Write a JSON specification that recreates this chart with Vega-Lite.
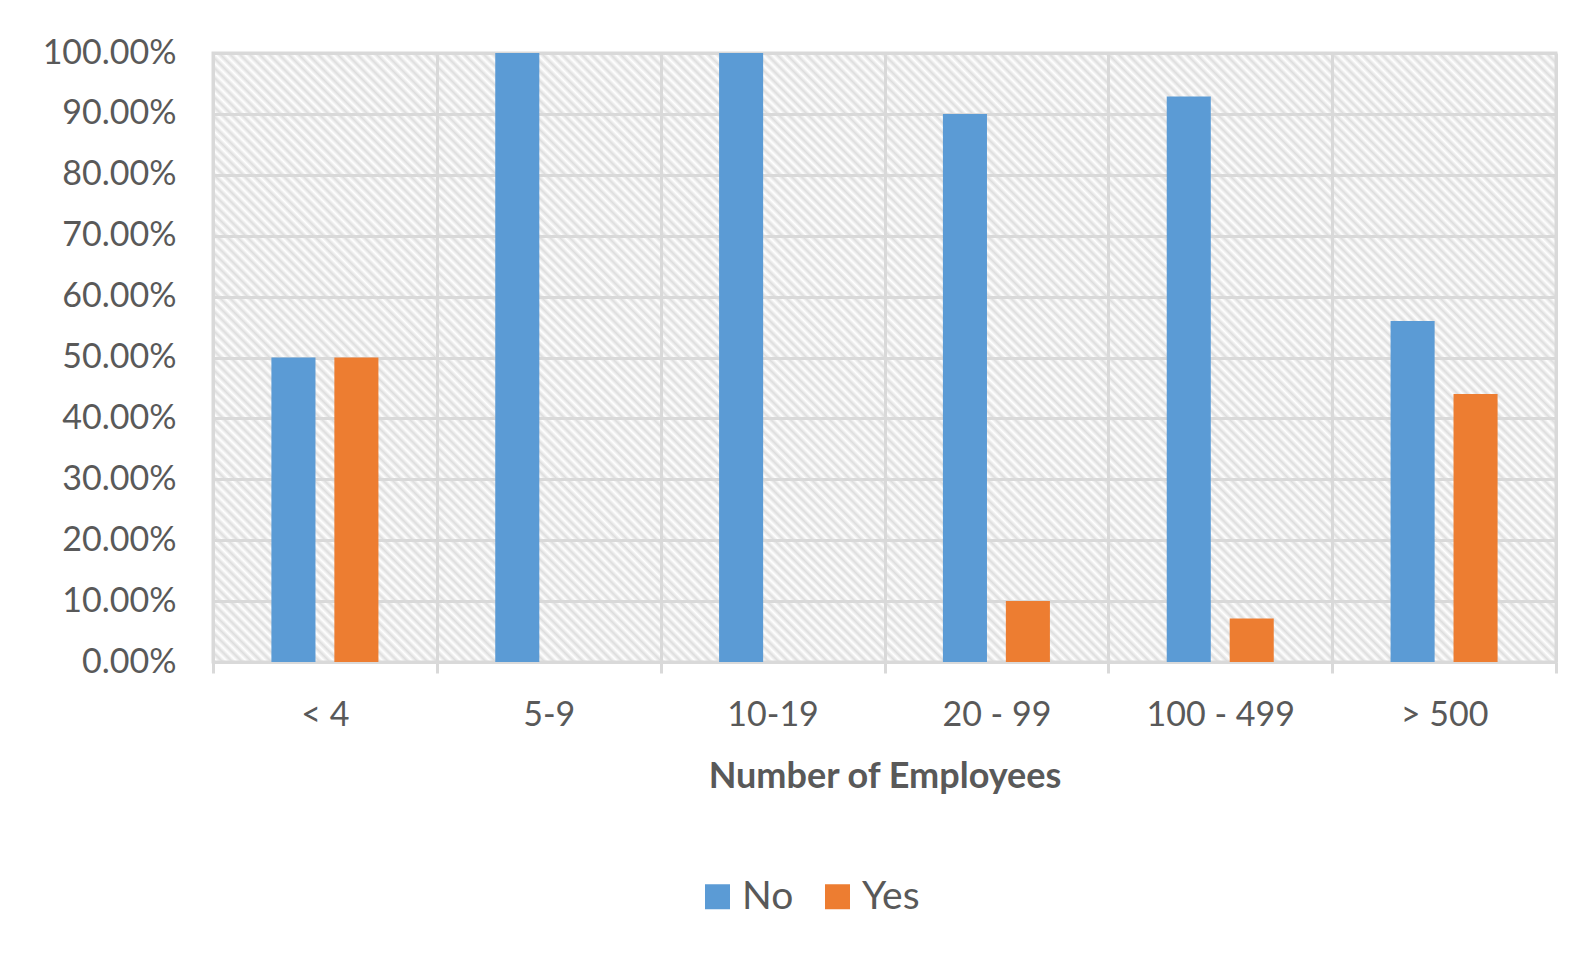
{
  "$schema": "https://vega.github.io/schema/vega-lite/v6.json",
  "width": 1343,
  "height": 609,
  "autosize": "none",
  "padding": {"left": 213, "top": 53, "right": 24, "bottom": 294},
  "background": "white",
  "config": {"font": "Lato"},
  "view": {
    "stroke": "#d9d9d9",
    "strokeWidth": 3,
    "fill": {
      "gradient": "linear",
      "x1": 0, "y1": 1, "x2": 1.2056, "y2": 0.4533,
      "stops": [
{"offset":0,"color":"#ddd"},{"offset":0.0025,"color":"#fff"},{"offset":0.005,"color":"#ddd"},{"offset":0.0075,"color":"#fff"},
{"offset":0.01,"color":"#ddd"},{"offset":0.0125,"color":"#fff"},{"offset":0.015,"color":"#ddd"},{"offset":0.0175,"color":"#fff"},
{"offset":0.02,"color":"#ddd"},{"offset":0.0225,"color":"#fff"},{"offset":0.025,"color":"#ddd"},{"offset":0.0275,"color":"#fff"},
{"offset":0.03,"color":"#ddd"},{"offset":0.0325,"color":"#fff"},{"offset":0.035,"color":"#ddd"},{"offset":0.0375,"color":"#fff"},
{"offset":0.04,"color":"#ddd"},{"offset":0.0425,"color":"#fff"},{"offset":0.045,"color":"#ddd"},{"offset":0.0475,"color":"#fff"},
{"offset":0.05,"color":"#ddd"},{"offset":0.0525,"color":"#fff"},{"offset":0.055,"color":"#ddd"},{"offset":0.0575,"color":"#fff"},
{"offset":0.06,"color":"#ddd"},{"offset":0.0625,"color":"#fff"},{"offset":0.065,"color":"#ddd"},{"offset":0.0675,"color":"#fff"},
{"offset":0.07,"color":"#ddd"},{"offset":0.0725,"color":"#fff"},{"offset":0.075,"color":"#ddd"},{"offset":0.0775,"color":"#fff"},
{"offset":0.08,"color":"#ddd"},{"offset":0.0825,"color":"#fff"},{"offset":0.085,"color":"#ddd"},{"offset":0.0875,"color":"#fff"},
{"offset":0.09,"color":"#ddd"},{"offset":0.0925,"color":"#fff"},{"offset":0.095,"color":"#ddd"},{"offset":0.0975,"color":"#fff"},
{"offset":0.1,"color":"#ddd"},{"offset":0.1025,"color":"#fff"},{"offset":0.105,"color":"#ddd"},{"offset":0.1075,"color":"#fff"},
{"offset":0.11,"color":"#ddd"},{"offset":0.1125,"color":"#fff"},{"offset":0.115,"color":"#ddd"},{"offset":0.1175,"color":"#fff"},
{"offset":0.12,"color":"#ddd"},{"offset":0.1225,"color":"#fff"},{"offset":0.125,"color":"#ddd"},{"offset":0.1275,"color":"#fff"},
{"offset":0.13,"color":"#ddd"},{"offset":0.1325,"color":"#fff"},{"offset":0.135,"color":"#ddd"},{"offset":0.1375,"color":"#fff"},
{"offset":0.14,"color":"#ddd"},{"offset":0.1425,"color":"#fff"},{"offset":0.145,"color":"#ddd"},{"offset":0.1475,"color":"#fff"},
{"offset":0.15,"color":"#ddd"},{"offset":0.1525,"color":"#fff"},{"offset":0.155,"color":"#ddd"},{"offset":0.1575,"color":"#fff"},
{"offset":0.16,"color":"#ddd"},{"offset":0.1625,"color":"#fff"},{"offset":0.165,"color":"#ddd"},{"offset":0.1675,"color":"#fff"},
{"offset":0.17,"color":"#ddd"},{"offset":0.1725,"color":"#fff"},{"offset":0.175,"color":"#ddd"},{"offset":0.1775,"color":"#fff"},
{"offset":0.18,"color":"#ddd"},{"offset":0.1825,"color":"#fff"},{"offset":0.185,"color":"#ddd"},{"offset":0.1875,"color":"#fff"},
{"offset":0.19,"color":"#ddd"},{"offset":0.1925,"color":"#fff"},{"offset":0.195,"color":"#ddd"},{"offset":0.1975,"color":"#fff"},
{"offset":0.2,"color":"#ddd"},{"offset":0.2025,"color":"#fff"},{"offset":0.205,"color":"#ddd"},{"offset":0.2075,"color":"#fff"},
{"offset":0.21,"color":"#ddd"},{"offset":0.2125,"color":"#fff"},{"offset":0.215,"color":"#ddd"},{"offset":0.2175,"color":"#fff"},
{"offset":0.22,"color":"#ddd"},{"offset":0.2225,"color":"#fff"},{"offset":0.225,"color":"#ddd"},{"offset":0.2275,"color":"#fff"},
{"offset":0.23,"color":"#ddd"},{"offset":0.2325,"color":"#fff"},{"offset":0.235,"color":"#ddd"},{"offset":0.2375,"color":"#fff"},
{"offset":0.24,"color":"#ddd"},{"offset":0.2425,"color":"#fff"},{"offset":0.245,"color":"#ddd"},{"offset":0.2475,"color":"#fff"},
{"offset":0.25,"color":"#ddd"},{"offset":0.2525,"color":"#fff"},{"offset":0.255,"color":"#ddd"},{"offset":0.2575,"color":"#fff"},
{"offset":0.26,"color":"#ddd"},{"offset":0.2625,"color":"#fff"},{"offset":0.265,"color":"#ddd"},{"offset":0.2675,"color":"#fff"},
{"offset":0.27,"color":"#ddd"},{"offset":0.2725,"color":"#fff"},{"offset":0.275,"color":"#ddd"},{"offset":0.2775,"color":"#fff"},
{"offset":0.28,"color":"#ddd"},{"offset":0.2825,"color":"#fff"},{"offset":0.285,"color":"#ddd"},{"offset":0.2875,"color":"#fff"},
{"offset":0.29,"color":"#ddd"},{"offset":0.2925,"color":"#fff"},{"offset":0.295,"color":"#ddd"},{"offset":0.2975,"color":"#fff"},
{"offset":0.3,"color":"#ddd"},{"offset":0.3025,"color":"#fff"},{"offset":0.305,"color":"#ddd"},{"offset":0.3075,"color":"#fff"},
{"offset":0.31,"color":"#ddd"},{"offset":0.3125,"color":"#fff"},{"offset":0.315,"color":"#ddd"},{"offset":0.3175,"color":"#fff"},
{"offset":0.32,"color":"#ddd"},{"offset":0.3225,"color":"#fff"},{"offset":0.325,"color":"#ddd"},{"offset":0.3275,"color":"#fff"},
{"offset":0.33,"color":"#ddd"},{"offset":0.3325,"color":"#fff"},{"offset":0.335,"color":"#ddd"},{"offset":0.3375,"color":"#fff"},
{"offset":0.34,"color":"#ddd"},{"offset":0.3425,"color":"#fff"},{"offset":0.345,"color":"#ddd"},{"offset":0.3475,"color":"#fff"},
{"offset":0.35,"color":"#ddd"},{"offset":0.3525,"color":"#fff"},{"offset":0.355,"color":"#ddd"},{"offset":0.3575,"color":"#fff"},
{"offset":0.36,"color":"#ddd"},{"offset":0.3625,"color":"#fff"},{"offset":0.365,"color":"#ddd"},{"offset":0.3675,"color":"#fff"},
{"offset":0.37,"color":"#ddd"},{"offset":0.3725,"color":"#fff"},{"offset":0.375,"color":"#ddd"},{"offset":0.3775,"color":"#fff"},
{"offset":0.38,"color":"#ddd"},{"offset":0.3825,"color":"#fff"},{"offset":0.385,"color":"#ddd"},{"offset":0.3875,"color":"#fff"},
{"offset":0.39,"color":"#ddd"},{"offset":0.3925,"color":"#fff"},{"offset":0.395,"color":"#ddd"},{"offset":0.3975,"color":"#fff"},
{"offset":0.4,"color":"#ddd"},{"offset":0.4025,"color":"#fff"},{"offset":0.405,"color":"#ddd"},{"offset":0.4075,"color":"#fff"},
{"offset":0.41,"color":"#ddd"},{"offset":0.4125,"color":"#fff"},{"offset":0.415,"color":"#ddd"},{"offset":0.4175,"color":"#fff"},
{"offset":0.42,"color":"#ddd"},{"offset":0.4225,"color":"#fff"},{"offset":0.425,"color":"#ddd"},{"offset":0.4275,"color":"#fff"},
{"offset":0.43,"color":"#ddd"},{"offset":0.4325,"color":"#fff"},{"offset":0.435,"color":"#ddd"},{"offset":0.4375,"color":"#fff"},
{"offset":0.44,"color":"#ddd"},{"offset":0.4425,"color":"#fff"},{"offset":0.445,"color":"#ddd"},{"offset":0.4475,"color":"#fff"},
{"offset":0.45,"color":"#ddd"},{"offset":0.4525,"color":"#fff"},{"offset":0.455,"color":"#ddd"},{"offset":0.4575,"color":"#fff"},
{"offset":0.46,"color":"#ddd"},{"offset":0.4625,"color":"#fff"},{"offset":0.465,"color":"#ddd"},{"offset":0.4675,"color":"#fff"},
{"offset":0.47,"color":"#ddd"},{"offset":0.4725,"color":"#fff"},{"offset":0.475,"color":"#ddd"},{"offset":0.4775,"color":"#fff"},
{"offset":0.48,"color":"#ddd"},{"offset":0.4825,"color":"#fff"},{"offset":0.485,"color":"#ddd"},{"offset":0.4875,"color":"#fff"},
{"offset":0.49,"color":"#ddd"},{"offset":0.4925,"color":"#fff"},{"offset":0.495,"color":"#ddd"},{"offset":0.4975,"color":"#fff"},
{"offset":0.5,"color":"#ddd"},{"offset":0.5025,"color":"#fff"},{"offset":0.505,"color":"#ddd"},{"offset":0.5075,"color":"#fff"},
{"offset":0.51,"color":"#ddd"},{"offset":0.5125,"color":"#fff"},{"offset":0.515,"color":"#ddd"},{"offset":0.5175,"color":"#fff"},
{"offset":0.52,"color":"#ddd"},{"offset":0.5225,"color":"#fff"},{"offset":0.525,"color":"#ddd"},{"offset":0.5275,"color":"#fff"},
{"offset":0.53,"color":"#ddd"},{"offset":0.5325,"color":"#fff"},{"offset":0.535,"color":"#ddd"},{"offset":0.5375,"color":"#fff"},
{"offset":0.54,"color":"#ddd"},{"offset":0.5425,"color":"#fff"},{"offset":0.545,"color":"#ddd"},{"offset":0.5475,"color":"#fff"},
{"offset":0.55,"color":"#ddd"},{"offset":0.5525,"color":"#fff"},{"offset":0.555,"color":"#ddd"},{"offset":0.5575,"color":"#fff"},
{"offset":0.56,"color":"#ddd"},{"offset":0.5625,"color":"#fff"},{"offset":0.565,"color":"#ddd"},{"offset":0.5675,"color":"#fff"},
{"offset":0.57,"color":"#ddd"},{"offset":0.5725,"color":"#fff"},{"offset":0.575,"color":"#ddd"},{"offset":0.5775,"color":"#fff"},
{"offset":0.58,"color":"#ddd"},{"offset":0.5825,"color":"#fff"},{"offset":0.585,"color":"#ddd"},{"offset":0.5875,"color":"#fff"},
{"offset":0.59,"color":"#ddd"},{"offset":0.5925,"color":"#fff"},{"offset":0.595,"color":"#ddd"},{"offset":0.5975,"color":"#fff"},
{"offset":0.6,"color":"#ddd"},{"offset":0.6025,"color":"#fff"},{"offset":0.605,"color":"#ddd"},{"offset":0.6075,"color":"#fff"},
{"offset":0.61,"color":"#ddd"},{"offset":0.6125,"color":"#fff"},{"offset":0.615,"color":"#ddd"},{"offset":0.6175,"color":"#fff"},
{"offset":0.62,"color":"#ddd"},{"offset":0.6225,"color":"#fff"},{"offset":0.625,"color":"#ddd"},{"offset":0.6275,"color":"#fff"},
{"offset":0.63,"color":"#ddd"},{"offset":0.6325,"color":"#fff"},{"offset":0.635,"color":"#ddd"},{"offset":0.6375,"color":"#fff"},
{"offset":0.64,"color":"#ddd"},{"offset":0.6425,"color":"#fff"},{"offset":0.645,"color":"#ddd"},{"offset":0.6475,"color":"#fff"},
{"offset":0.65,"color":"#ddd"},{"offset":0.6525,"color":"#fff"},{"offset":0.655,"color":"#ddd"},{"offset":0.6575,"color":"#fff"},
{"offset":0.66,"color":"#ddd"},{"offset":0.6625,"color":"#fff"},{"offset":0.665,"color":"#ddd"},{"offset":0.6675,"color":"#fff"},
{"offset":0.67,"color":"#ddd"},{"offset":0.6725,"color":"#fff"},{"offset":0.675,"color":"#ddd"},{"offset":0.6775,"color":"#fff"},
{"offset":0.68,"color":"#ddd"},{"offset":0.6825,"color":"#fff"},{"offset":0.685,"color":"#ddd"},{"offset":0.6875,"color":"#fff"},
{"offset":0.69,"color":"#ddd"},{"offset":0.6925,"color":"#fff"},{"offset":0.695,"color":"#ddd"},{"offset":0.6975,"color":"#fff"},
{"offset":0.7,"color":"#ddd"},{"offset":0.7025,"color":"#fff"},{"offset":0.705,"color":"#ddd"},{"offset":0.7075,"color":"#fff"},
{"offset":0.71,"color":"#ddd"},{"offset":0.7125,"color":"#fff"},{"offset":0.715,"color":"#ddd"},{"offset":0.7175,"color":"#fff"},
{"offset":0.72,"color":"#ddd"},{"offset":0.7225,"color":"#fff"},{"offset":0.725,"color":"#ddd"},{"offset":0.7275,"color":"#fff"},
{"offset":0.73,"color":"#ddd"},{"offset":0.7325,"color":"#fff"},{"offset":0.735,"color":"#ddd"},{"offset":0.7375,"color":"#fff"},
{"offset":0.74,"color":"#ddd"},{"offset":0.7425,"color":"#fff"},{"offset":0.745,"color":"#ddd"},{"offset":0.7475,"color":"#fff"},
{"offset":0.75,"color":"#ddd"},{"offset":0.7525,"color":"#fff"},{"offset":0.755,"color":"#ddd"},{"offset":0.7575,"color":"#fff"},
{"offset":0.76,"color":"#ddd"},{"offset":0.7625,"color":"#fff"},{"offset":0.765,"color":"#ddd"},{"offset":0.7675,"color":"#fff"},
{"offset":0.77,"color":"#ddd"},{"offset":0.7725,"color":"#fff"},{"offset":0.775,"color":"#ddd"},{"offset":0.7775,"color":"#fff"},
{"offset":0.78,"color":"#ddd"},{"offset":0.7825,"color":"#fff"},{"offset":0.785,"color":"#ddd"},{"offset":0.7875,"color":"#fff"},
{"offset":0.79,"color":"#ddd"},{"offset":0.7925,"color":"#fff"},{"offset":0.795,"color":"#ddd"},{"offset":0.7975,"color":"#fff"},
{"offset":0.8,"color":"#ddd"},{"offset":0.8025,"color":"#fff"},{"offset":0.805,"color":"#ddd"},{"offset":0.8075,"color":"#fff"},
{"offset":0.81,"color":"#ddd"},{"offset":0.8125,"color":"#fff"},{"offset":0.815,"color":"#ddd"},{"offset":0.8175,"color":"#fff"},
{"offset":0.82,"color":"#ddd"},{"offset":0.8225,"color":"#fff"},{"offset":0.825,"color":"#ddd"},{"offset":0.8275,"color":"#fff"},
{"offset":0.83,"color":"#ddd"},{"offset":0.8325,"color":"#fff"},{"offset":0.835,"color":"#ddd"},{"offset":0.8375,"color":"#fff"},
{"offset":0.84,"color":"#ddd"},{"offset":0.8425,"color":"#fff"},{"offset":0.845,"color":"#ddd"},{"offset":0.8475,"color":"#fff"},
{"offset":0.85,"color":"#ddd"},{"offset":0.8525,"color":"#fff"},{"offset":0.855,"color":"#ddd"},{"offset":0.8575,"color":"#fff"},
{"offset":0.86,"color":"#ddd"},{"offset":0.8625,"color":"#fff"},{"offset":0.865,"color":"#ddd"},{"offset":0.8675,"color":"#fff"},
{"offset":0.87,"color":"#ddd"},{"offset":0.8725,"color":"#fff"},{"offset":0.875,"color":"#ddd"},{"offset":0.8775,"color":"#fff"},
{"offset":0.88,"color":"#ddd"},{"offset":0.8825,"color":"#fff"},{"offset":0.885,"color":"#ddd"},{"offset":0.8875,"color":"#fff"},
{"offset":0.89,"color":"#ddd"},{"offset":0.8925,"color":"#fff"},{"offset":0.895,"color":"#ddd"},{"offset":0.8975,"color":"#fff"},
{"offset":0.9,"color":"#ddd"},{"offset":0.9025,"color":"#fff"},{"offset":0.905,"color":"#ddd"},{"offset":0.9075,"color":"#fff"},
{"offset":0.91,"color":"#ddd"},{"offset":0.9125,"color":"#fff"},{"offset":0.915,"color":"#ddd"},{"offset":0.9175,"color":"#fff"},
{"offset":0.92,"color":"#ddd"},{"offset":0.9225,"color":"#fff"},{"offset":0.925,"color":"#ddd"},{"offset":0.9275,"color":"#fff"},
{"offset":0.93,"color":"#ddd"},{"offset":0.9325,"color":"#fff"},{"offset":0.935,"color":"#ddd"},{"offset":0.9375,"color":"#fff"},
{"offset":0.94,"color":"#ddd"},{"offset":0.9425,"color":"#fff"},{"offset":0.945,"color":"#ddd"},{"offset":0.9475,"color":"#fff"},
{"offset":0.95,"color":"#ddd"},{"offset":0.9525,"color":"#fff"},{"offset":0.955,"color":"#ddd"},{"offset":0.9575,"color":"#fff"},
{"offset":0.96,"color":"#ddd"},{"offset":0.9625,"color":"#fff"},{"offset":0.965,"color":"#ddd"},{"offset":0.9675,"color":"#fff"},
{"offset":0.97,"color":"#ddd"},{"offset":0.9725,"color":"#fff"},{"offset":0.975,"color":"#ddd"},{"offset":0.9775,"color":"#fff"},
{"offset":0.98,"color":"#ddd"},{"offset":0.9825,"color":"#fff"},{"offset":0.985,"color":"#ddd"},{"offset":0.9875,"color":"#fff"},
{"offset":0.99,"color":"#ddd"},{"offset":0.9925,"color":"#fff"},{"offset":0.995,"color":"#ddd"},{"offset":0.9975,"color":"#fff"},
{"offset":1,"color":"#ddd"}
      ]
    }
  },
  "data": {
    "values": [
      {"size": "< 4", "answer": "No", "share": 0.5},
      {"size": "< 4", "answer": "Yes", "share": 0.5},
      {"size": "5-9", "answer": "No", "share": 1.0},
      {"size": "5-9", "answer": "Yes", "share": 0.0},
      {"size": "10-19", "answer": "No", "share": 1.0},
      {"size": "10-19", "answer": "Yes", "share": 0.0},
      {"size": "20 - 99", "answer": "No", "share": 0.9},
      {"size": "20 - 99", "answer": "Yes", "share": 0.1},
      {"size": "100 - 499", "answer": "No", "share": 0.9286},
      {"size": "100 - 499", "answer": "Yes", "share": 0.0714},
      {"size": "> 500", "answer": "No", "share": 0.56},
      {"size": "> 500", "answer": "Yes", "share": 0.44}
    ]
  },
  "mark": {"type": "bar"},
  "encoding": {
    "x": {
      "field": "size",
      "type": "nominal",
      "sort": ["< 4", "5-9", "10-19", "20 - 99", "100 - 499", "> 500"],
      "scale": {"paddingInner": 0, "paddingOuter": 0},
      "title": "Number of Employees",
      "axis": {
        "labelAngle": 0,
        "labelFontSize": 34,
        "labelColor": "#595959",
        "labelPadding": 25,
        "tickSize": 11,
        "tickColor": "#d9d9d9",
        "tickWidth": 3,
        "tickBand": "extent",
        "grid": true,
        "gridColor": "#d9d9d9",
        "gridWidth": 3,
        "domainColor": "#d9d9d9",
        "domainWidth": 3,
        "titleFontSize": 36,
        "titleFontWeight": "bold",
        "titleColor": "#595959",
        "titlePadding": 27
      }
    },
    "xOffset": {
      "field": "answer",
      "type": "nominal",
      "sort": ["No", "Yes"],
      "scale": {"paddingInner": 0.3, "paddingOuter": 0.928}
    },
    "y": {
      "field": "share",
      "type": "quantitative",
      "scale": {"domain": [0, 1]},
      "title": null,
      "axis": {
        "values": [0, 0.1, 0.2, 0.3, 0.4, 0.5, 0.6, 0.7, 0.8, 0.9, 1],
        "format": ".2%",
        "labelFontSize": 34,
        "labelColor": "#595959",
        "labelPadding": 37,
        "labelFlush": false,
        "labelOverlap": false,
        "ticks": false,
        "tickSize": 0,
        "domain": false,
        "grid": true,
        "gridColor": "#d9d9d9",
        "gridWidth": 3
      }
    },
    "color": {
      "field": "answer",
      "type": "nominal",
      "scale": {"domain": ["No", "Yes"], "range": ["#5B9BD5", "#ED7D31"]},
      "legend": {
        "title": null,
        "orient": "none",
        "legendX": 485,
        "legendY": 824,
        "direction": "horizontal",
        "symbolType": "square",
        "symbolSize": 625,
        "symbolStrokeWidth": 0,
        "labelFontSize": 39,
        "labelColor": "#595959",
        "labelOffset": 5,
        "columnPadding": 24,
        "padding": 0
      }
    }
  }
}
